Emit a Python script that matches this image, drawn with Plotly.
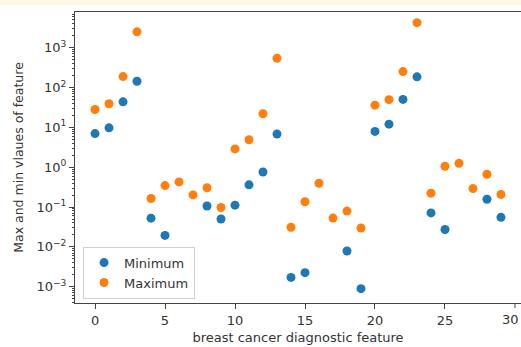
import plotly.graph_objects as go

features = list(range(30))
min_vals = [6.981, 9.71, 43.79, 143.5, 0.05263, 0.01938, 0, 0, 0.106, 0.04996,
            0.1115, 0.3602, 0.757, 6.802, 0.001713, 0.002252, 0, 0, 0.007882, 0.0008948,
            7.93, 12.02, 50.41, 185.2, 0.07117, 0.02729, 0, 0, 0.1565, 0.05504]
max_vals = [28.11, 39.28, 188.5, 2501, 0.1634, 0.3454, 0.4268, 0.2012, 0.304, 0.09744,
            2.873, 4.885, 21.98, 542.2, 0.03113, 0.1354, 0.396, 0.05279, 0.07895, 0.02984,
            36.04, 49.54, 251.2, 4254, 0.2226, 1.058, 1.252, 0.291, 0.6638, 0.2075]

x_ticks = [0, 5, 10, 15, 20, 25, 30]
y_ticks = [1e-3, 1e-2, 1e-1, 1e0, 1e1, 1e2, 1e3]
y_ticktext = ["10<sup>−3</sup>", "10<sup>−2</sup>", "10<sup>−1</sup>", "10<sup>0</sup>",
              "10<sup>1</sup>", "10<sup>2</sup>", "10<sup>3</sup>"]
minor_y = [m * 10 ** e for e in range(-4, 4) for m in range(2, 10)]

font = "DejaVu Sans"
tc = "#333"

fig = go.Figure()
fig.add_trace(go.Scatter(x=features, y=[v if v > 0 else None for v in min_vals],
                         mode="markers", name="Minimum",
                         marker=dict(color="#1f77b4", size=9)))
fig.add_trace(go.Scatter(x=features, y=[v if v > 0 else None for v in max_vals],
                         mode="markers", name="Maximum",
                         marker=dict(color="#ff7f0e", size=9)))

axis_common = dict(showgrid=False, zeroline=False, showline=True, linecolor="#444",
                   linewidth=1, ticks="outside", ticklen=5, tickcolor="#444",
                   tickfont=dict(family=font, size=13, color=tc))

fig.update_layout(
    width=521, height=347,
    margin=dict(l=75, r=0, t=12, b=44),
    paper_bgcolor="white", plot_bgcolor="white",
    font=dict(family=font, size=13, color=tc),
    xaxis=dict(range=[-1.43, 30.43], tickvals=x_ticks[:-1], mirror=True,
               title=dict(text="breast cancer diagnostic feature", standoff=6,
                          font=dict(family=font, size=13, color=tc)),
               **axis_common),
    yaxis=dict(type="log", range=[-3.409, 3.896], tickvals=y_ticks, ticktext=y_ticktext,
               title=dict(text="Max and min vlaues of feature", standoff=10,
                          font=dict(family=font, size=12.5, color=tc)),
               minor=dict(tickvals=minor_y, ticks="outside", ticklen=2, tickcolor="#444",
                          showgrid=False),
               **axis_common),
    legend=dict(x=0.018, y=0.015, xanchor="left", yanchor="bottom",
                bgcolor="rgba(255,255,255,0.8)", bordercolor="#d0d0d0", borderwidth=1,
                font=dict(family=font, size=13, color=tc),
                itemwidth=30, tracegroupgap=0),
    showlegend=True,
    shapes=[dict(type="rect", xref="paper", yref="paper", x0=-0.2, x1=1.05,
                 y0=1 + 7 / 291, y1=1.2, fillcolor="#fdf8e4", line=dict(width=0),
                 layer="below"),
            dict(type="line", xref="x", yref="paper", x0=x_ticks[-1], x1=x_ticks[-1],
                 y0=0, y1=-5 / 291, line=dict(color="#444", width=1))],
    annotations=[dict(text=str(x_ticks[-1]), x=1, xref="paper", xanchor="right",
                      y=0, yref="paper", yanchor="top", yshift=-7, showarrow=False,
                      font=dict(family=font, size=13, color=tc))],
)

fig.write_html("out.html")
